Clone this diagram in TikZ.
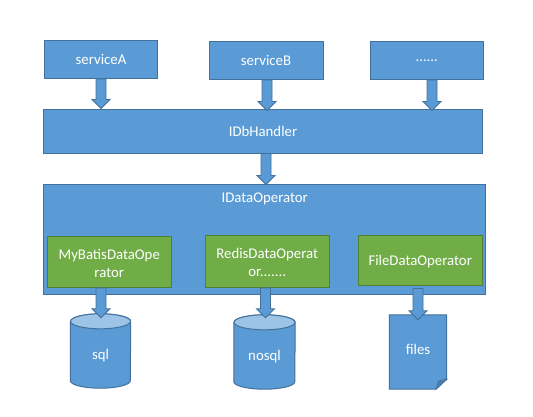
\documentclass[tikz,border=0pt]{standalone}
\usepackage{fontspec}
\setmainfont{Carlito}
\usetikzlibrary{calc}
\definecolor{bluefill}{HTML}{5B9BD5}
\definecolor{blueline}{HTML}{41719C}
\definecolor{bluetop}{HTML}{9DC3E6}
\definecolor{bluefold}{HTML}{4A7EAD}
\definecolor{greenfill}{HTML}{70AD47}
\definecolor{greenline}{HTML}{507E32}
\tikzset{
  x=1pt,y=-1pt,
  every node/.style={font=\fontsize{14.8}{18}\selectfont,text=white,align=center,inner sep=0pt},
  bluebox/.style={draw=blueline,fill=bluefill,line width=1pt,rectangle},
  greenbox/.style={draw=greenline,fill=greenfill,line width=1pt,rectangle},
  shapeoutline/.style={draw=blueline,line width=1pt,line join=round},
  blockarrow/.style={draw=blueline,fill=bluefill,line width=.8pt,line join=miter},
}
% #1 x centre, #2 source point, #3 target point
\newcommand{\blockarrow}[3]{%
  \coordinate (arrowfrom) at #2;
  \coordinate (arrowto) at #3;
  \draw[blockarrow] let \p1=(#1,0 |- arrowfrom), \p2=(#1,0 |- arrowto) in
    (\x1-5pt,\y1) -- (\x1+5pt,\y1) -- (\x1+5pt,\y2+9pt) -- (\x1+9pt,\y2+9pt)
    -- (\x2,\y2) -- (\x1-9pt,\y2+9pt) -- (\x1-5pt,\y2+9pt) -- cycle;}
% #1 node name, #2 x radius
\newcommand{\dbcylinder}[2]{%
  \draw[shapeoutline,fill=bluefill] ($(#1.north west)+(0,7.5)$) -- ($(#1.south west)+(0,-7.5)$)
    arc[start angle=180,end angle=360,x radius=#2pt,y radius=7.5pt]
    -- ($(#1.north east)+(0,7.5)$)
    arc[start angle=0,end angle=180,x radius=#2pt,y radius=7.5pt] -- cycle;
  \draw[shapeoutline,fill=bluetop] ($(#1.north)+(0,7.5)$) ellipse[x radius=#2pt,y radius=7.5pt];}
\begin{document}
\begin{tikzpicture}
\useasboundingbox (0,0) rectangle (533,416);
\node[bluebox,minimum width=113pt,minimum height=38pt] (svcA) at (101,59.5) {serviceA};
\node[bluebox,minimum width=114pt,minimum height=38pt] (svcB) at (266,60.5) {serviceB};
\node[bluebox,minimum width=113.5pt,minimum height=38pt] (svcC) at (426.75,60.5) {......};
\node[bluebox,minimum width=439pt,minimum height=44pt] (hdl) at (263,131) {IDbHandler};
\node[bluebox,minimum width=441.5pt,minimum height=110.5pt,
  label={[anchor=north,yshift=-9.5pt,xshift=0.5pt]north:IDataOperator}] (ops) at (264.25,239.25) {};
\node[greenbox,minimum width=124.5pt,minimum height=51pt,
  label={[yshift=-1pt]center:MyBatisDataOpe\\rator}] (mb) at (109.25,262) {};
\node[greenbox,minimum width=124.5pt,minimum height=52pt,
  label={[yshift=-1pt]center:RedisDataOperat\\or.......}] (rd) at (267.25,261.5) {};
\node[greenbox,minimum width=124.5pt,minimum height=50pt,
  label={[yshift=-1pt]center:FileDataOperator}] (fd) at (420.25,260.5) {};
\node[minimum width=60pt,minimum height=74pt] (sql) at (100.5,351) {};
\dbcylinder{sql}{30}
\node at (sql.center) [yshift=-5pt] (sqltext) {sql};
\node[minimum width=61pt,minimum height=74pt] (nosql) at (264.5,352) {};
\dbcylinder{nosql}{30.5}
\node at (nosql.center) [yshift=-5pt] (nosqltext) {nosql};
\node[minimum width=57pt,minimum height=74pt] (files) at (418,352) {};
\draw[shapeoutline,fill=bluefill] (files.north west) -- (files.north east)
  -- ($(files.south east)+(0,-11)$) -- ($(files.south east)+(-11,0)$) -- (files.south west) -- cycle;
\fill[bluefold,draw=blueline,line width=.6pt] ($(files.south east)+(0.5,-10)$)
  -- ($(files.south east)+(-10.5,0)$) -- ($(files.south east)+(-8.5,-8)$) -- cycle;
\node at (files.center) [yshift=3pt] (filestext) {files};
\blockarrow{101}{(svcA.south)}{(hdl.north)}
\blockarrow{267}{(svcB.south)}{($(hdl.north)+(0,2)$)}
\blockarrow{432}{(svcC.south)}{($(hdl.north)+(0,2)$)}
\blockarrow{266}{(hdl.south)}{($(ops.north)+(0,1)$)}
\blockarrow{101}{(mb.south)}{($(sql.north)+(0,4)$)}
\blockarrow{265.5}{(rd.south)}{($(nosql.north)+(0,3)$)}
\blockarrow{418}{($(fd.south)+(0,2.5)$)}{($(files.north)+(0,5)$)}
\end{tikzpicture}
\end{document}
